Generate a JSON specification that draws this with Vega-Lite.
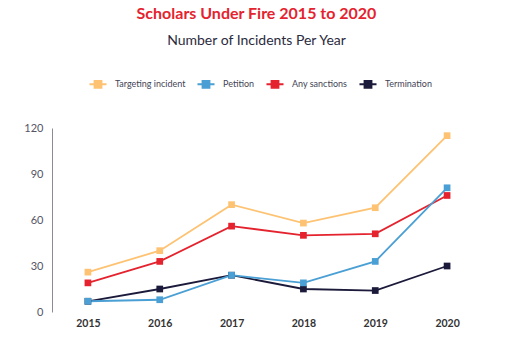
{
  "$schema": "https://vega.github.io/schema/vega-lite/v6.json",
  "width": 431,
  "height": 184,
  "autosize": "none",
  "padding": {"left": 52, "top": 128, "right": 46, "bottom": 41},
  "background": "white",
  "config": {"view": {"stroke": null}},
  "title": {
    "text": "Scholars Under Fire 2015 to 2020",
    "subtitle": "Number of Incidents Per Year",
    "anchor": "middle",
    "dx": -11,
    "color": "#E4232E",
    "font": "Lato",
    "fontSize": 16,
    "fontWeight": "bold",
    "subtitleColor": "#2b2b40",
    "subtitleFont": "Lato",
    "subtitleFontSize": 14,
    "subtitlePadding": 12,
    "offset": 26
  },
  "data": {
    "values": [
      {"year": "2015", "series": "Termination", "value": 7},
      {"year": "2016", "series": "Termination", "value": 15},
      {"year": "2017", "series": "Termination", "value": 24},
      {"year": "2018", "series": "Termination", "value": 15},
      {"year": "2019", "series": "Termination", "value": 14},
      {"year": "2020", "series": "Termination", "value": 30},
      {"year": "2015", "series": "Any sanctions", "value": 19},
      {"year": "2016", "series": "Any sanctions", "value": 33},
      {"year": "2017", "series": "Any sanctions", "value": 56},
      {"year": "2018", "series": "Any sanctions", "value": 50},
      {"year": "2019", "series": "Any sanctions", "value": 51},
      {"year": "2020", "series": "Any sanctions", "value": 76},
      {"year": "2015", "series": "Targeting incident", "value": 26},
      {"year": "2016", "series": "Targeting incident", "value": 40},
      {"year": "2017", "series": "Targeting incident", "value": 70},
      {"year": "2018", "series": "Targeting incident", "value": 58},
      {"year": "2019", "series": "Targeting incident", "value": 68},
      {"year": "2020", "series": "Targeting incident", "value": 115},
      {"year": "2015", "series": "Petition", "value": 7},
      {"year": "2016", "series": "Petition", "value": 8},
      {"year": "2017", "series": "Petition", "value": 24},
      {"year": "2018", "series": "Petition", "value": 19},
      {"year": "2019", "series": "Petition", "value": 33},
      {"year": "2020", "series": "Petition", "value": 81}
    ]
  },
  "encoding": {
    "x": {
      "field": "year",
      "type": "ordinal",
      "scale": {"type": "point", "padding": 0.5},
      "axis": {
        "title": null,
        "domain": false,
        "ticks": false,
        "labelAngle": 0,
        "labelFont": "Lato",
        "labelFontWeight": "bold",
        "labelFontSize": 10.5,
        "labelColor": "#333333",
        "labelPadding": 6
      }
    },
    "y": {
      "field": "value",
      "type": "quantitative",
      "scale": {"domain": [0, 120], "nice": false},
      "axis": {
        "title": null,
        "values": [0, 30, 60, 90, 120],
        "grid": false,
        "ticks": false,
        "domain": true,
        "domainColor": "#8a8a99",
        "domainWidth": 1,
        "labelFont": "Lato",
        "labelFontSize": 11,
        "labelColor": "#555566",
        "labelPadding": 9
      }
    },
    "color": {
      "field": "series",
      "type": "nominal",
      "scale": {
        "domain": ["Targeting incident", "Petition", "Any sanctions", "Termination"],
        "range": ["#FDC373", "#4A9FD4", "#E4232E", "#1B1A3A"]
      },
      "legend": {
        "title": null,
        "orient": "none",
        "direction": "horizontal",
        "legendX": 36,
        "legendY": -54,
        "symbolType": "M-1,0L1,0M-0.4,-0.4L0.4,-0.4L0.4,0.4L-0.4,0.4Z",
        "symbolSize": 290,
        "symbolStrokeWidth": 2,
        "labelFont": "Lato",
        "labelFontSize": 9,
        "labelColor": "#444455",
        "columnPadding": 7,
        "labelOffset": 7
      }
    }
  },
  "layer": [
    {
      "mark": {"type": "line", "strokeWidth": 1.8}
    },
    {
      "mark": {"type": "point", "shape": "square", "filled": true, "size": 45, "opacity": 1}
    }
  ]
}
